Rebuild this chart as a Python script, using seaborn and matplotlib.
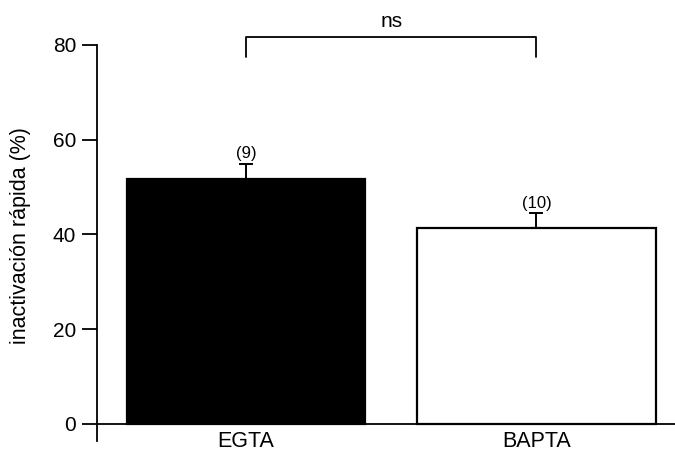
import matplotlib
matplotlib.use("Agg")
import matplotlib.pyplot as plt
import seaborn as sns
import pandas as pd

categories = ["EGTA", "BAPTA"]
means = [51.6, 41.4]
sem = [3.3, 3.1]
n_cells = ["(9)", "(10)"]
fills = ["black", "white"]
sig_label = "ns"

sns.set_style("white")
plt.rcParams["font.family"] = ["Liberation Sans", "DejaVu Sans"]
plt.rcParams["text.color"] = "black"
plt.rcParams["axes.labelcolor"] = "black"

W, H = 675, 453
fig = plt.figure(figsize=(W / 100, H / 100), dpi=100)
# axes: left at x=97px, right at figure edge; bottom at y=441px, top at y=0
ax = fig.add_axes([97 / W, (H - 441) / H, (W - 97) / W, 441 / H])

df = pd.DataFrame({"cond": categories, "val": means})
sns.barplot(data=df, x="cond", y="val", hue="cond", palette=fills,
            width=0.82, errorbar=None, legend=False, ax=ax,
            edgecolor="black", linewidth=1.6)

xs = list(range(len(categories)))
ax.errorbar(xs, means, yerr=[[0] * len(sem), sem], fmt="none",
            ecolor="black", elinewidth=1.4, capsize=5, capthick=1.4)

for x, m, s, t in zip(xs, means, sem, n_cells):
    ax.text(x, m + s + 2.1, t, ha="center", va="center", fontsize=12)

# significance bracket
y_br, y_end = 81.6, 77.4
ax.plot([0, 0, 1, 1], [y_end, y_br, y_br, y_end], color="black", lw=1.3,
        clip_on=False)
ax.text(0.5, y_br + 1.3, sig_label, ha="center", va="bottom", fontsize=15)

ax.set_xlim(-0.513, 1.477)
ax.set_ylim(-3.6, 89.45)
ax.set_yticks([0, 20, 40, 60, 80])
ax.set_xlabel("")
ax.set_ylabel("inactivación rápida (%)", fontsize=15.5)
ax.yaxis.set_label_coords(-0.114, 0.466)

for sp in ["top", "right"]:
    ax.spines[sp].set_visible(False)
ax.spines["bottom"].set_position(("data", 0))
ax.spines["left"].set_bounds(-3.6, 80)
for sp in ["left", "bottom"]:
    ax.spines[sp].set_color("black")
    ax.spines[sp].set_linewidth(1.3)

ax.tick_params(axis="y", direction="out", length=11, width=1.3,
               labelsize=15, pad=4, left=True, colors="black")
ax.tick_params(axis="x", length=0, labelsize=15.5, pad=5, colors="black")
ax.set_facecolor("white")
fig.patch.set_facecolor("white")

fig.savefig("out.png", dpi=100)
